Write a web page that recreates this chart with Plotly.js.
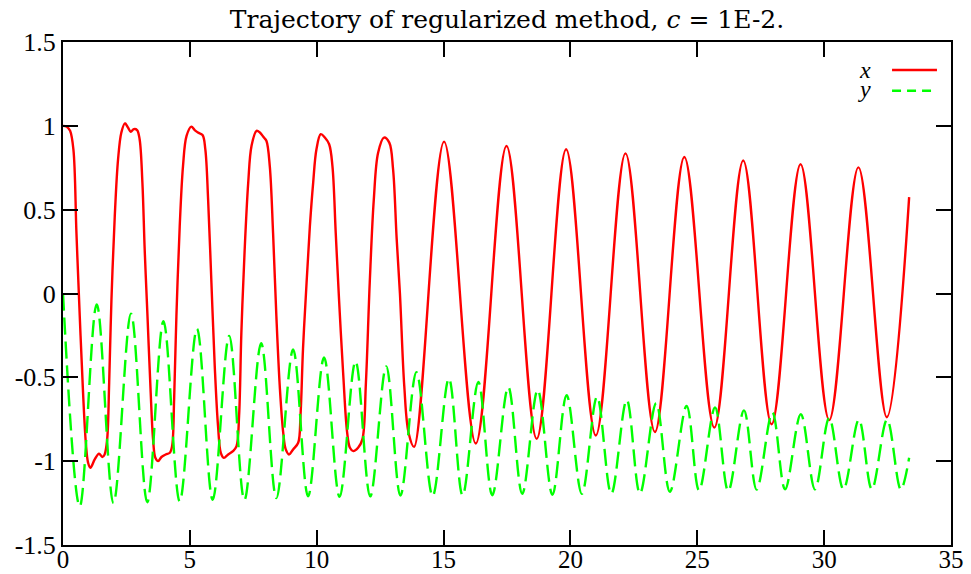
<!DOCTYPE html>
<html>
<head>
<meta charset="utf-8">
<script src="https://cdn.plot.ly/plotly-3.0.1.min.js"></script>
<style>html,body{margin:0;padding:0;background:#fff;}#chart{width:971px;height:574px;}</style>
</head>
<body>
<div id="chart"></div>
<script>
// ---- data ----
const xTime = [0.00,0.15,0.28,0.41,0.53,0.66,0.79,0.90,0.99,1.08,1.25,1.42,1.55,1.64,1.74,1.82,1.91,2.04,2.17,2.30,
  2.44,2.56,2.67,2.79,2.92,3.02,3.13,3.22,3.33,3.45,3.55,3.64,3.75,3.88,4.05,4.21,4.30,4.38,4.47,4.60,
  4.73,4.87,5.06,5.19,5.32,5.50,5.61,5.72,5.85,5.98,6.11,6.22,6.34,6.51,6.70,6.84,6.94,7.03,7.16,7.30,
  7.43,7.63,7.76,7.92,8.02,8.15,8.28,8.41,8.55,8.68,8.78,8.91,9.07,9.27,9.36,9.46,9.60,9.73,9.86,9.99,
  10.16,10.32,10.49,10.62,10.75,10.88,11.04,11.20,11.31,11.44,11.63,11.80,11.94,12.09,12.25,12.42,12.65,12.86,13.01,13.15,
  13.28,13.45,13.62,13.84,15.02,16.27,17.48,18.67,19.83,21.00,22.17,23.33,24.49,25.67,26.81,27.93,29.07,30.20,31.35,32.47,
  33.35];
const xValue = [1.00,0.995,0.97,0.86,0.36,-0.135,-0.59,-0.89,-1.01,-1.04,-0.99,-0.955,-0.975,-0.96,-0.87,-0.53,-0.036,0.46,0.80,0.96,
  1.015,0.99,0.965,0.98,0.975,0.92,0.66,0.26,-0.135,-0.57,-0.87,-0.98,-1.00,-0.975,-0.96,-0.95,-0.91,-0.63,-0.135,0.40,
  0.76,0.94,0.995,0.975,0.96,0.945,0.86,0.56,0.064,-0.43,-0.79,-0.95,-0.98,-0.96,-0.94,-0.91,-0.73,-0.235,0.26,0.66,
  0.88,0.97,0.96,0.93,0.91,0.76,0.36,-0.135,-0.57,-0.83,-0.93,-0.96,-0.93,-0.89,-0.73,-0.33,0.064,0.40,0.66,0.86,
  0.95,0.93,0.89,0.76,0.36,-0.036,-0.47,-0.83,-0.92,-0.94,-0.92,-0.87,-0.53,0.064,0.56,0.84,0.93,0.90,0.74,0.33,
  0.00,-0.55,-0.83,-0.915,0.906,-0.895,0.88,-0.867,0.86,-0.847,0.836,-0.826,0.814,-0.80,0.793,-0.78,0.771,-0.755,0.752,-0.738,
  0.575];

const yTime = [0.00,0.66,1.33,1.99,2.68,3.32,3.96,4.60,5.28,5.90,6.55,7.15,7.81,8.41,9.07,9.66,10.29,10.90,11.53,12.11,
  12.74,13.30,13.93,14.57,15.21,15.75,16.37,16.92,17.55,18.10,18.71,19.29,19.85,20.45,21.05,21.61,22.22,22.74,23.38,23.92,
  24.58,25.07,25.70,26.22,26.84,27.34,27.96,28.46,29.08,29.64,30.20,30.76,31.37,31.88,32.48,33.02,33.35];
const yValue = [0.00,-1.27,-0.065,-1.25,-0.12,-1.245,-0.165,-1.24,-0.21,-1.23,-0.253,-1.232,-0.297,-1.22,-0.334,-1.21,-0.382,-1.213,-0.405,-1.21,
  -0.435,-1.205,-0.47,-1.208,-0.507,-1.205,-0.528,-1.203,-0.557,-1.195,-0.575,-1.20,-0.607,-1.195,-0.615,-1.195,-0.634,-1.193,-0.654,-1.183,
  -0.67,-1.175,-0.68,-1.178,-0.697,-1.17,-0.71,-1.168,-0.72,-1.168,-0.742,-1.168,-0.752,-1.168,-0.752,-1.168,-0.98];

const xTicks = [0,5,10,15,20,25,30,35];
const xTickText = ['0','5','10','15','20','25','30','35'];
const yTicks = [-1.5,-1,-0.5,0,0.5,1,1.5];
const yTickText = ['-1.5','-1','-0.5','0','0.5','1','1.5'];
const seriesNames = ['x','y'];
// ----------------------------------------------

const FONT = 'Liberation Serif, Times New Roman, serif';
const TFONT = 'DejaVu Serif, serif';
const RED = '#ff0000', GREEN = '#00ff00';

const traces = [
  {x: xTime, y: xValue, type: 'scatter', mode: 'lines', name: seriesNames[0],
   line: {color: RED, width: 2.4, shape: 'spline', smoothing: 1}, showlegend: false},
  {x: yTime, y: yValue, type: 'scatter', mode: 'lines', name: seriesNames[1],
   line: {color: GREEN, width: 2.4, shape: 'spline', smoothing: 1, dash: '17px,7px'}, showlegend: false}
];

const axisCommon = {
  showgrid: false, zeroline: false, showline: true, linecolor: '#000', linewidth: 2,
  mirror: 'ticks', ticks: 'inside', ticklen: 15, tickwidth: 2, tickcolor: '#000',
  tickfont: {family: FONT, size: 26, color: '#000'}, fixedrange: true
};

const layout = {
  width: 971, height: 574,
  margin: {l: 63, r: 20, t: 42, b: 29, pad: 0},
  paper_bgcolor: '#fff', plot_bgcolor: '#fff',
  title: {text: 'Trajectory of regularized method, <i>c</i> = 1E-2.',
          font: {family: TFONT, size: 25, color: '#000'},
          x: 0.5, xref: 'paper', xanchor: 'center', y: 0.966, yref: 'container', yanchor: 'middle'},
  xaxis: Object.assign({}, axisCommon, {range: [0, 35], tickmode: 'array', tickvals: xTicks, ticktext: xTickText,
          ticklabelstandoff: -9, tickfont: {family: FONT, size: 25, color: '#000'}}),
  yaxis: Object.assign({}, axisCommon, {range: [-1.5, 1.5], tickmode: 'array', tickvals: yTicks, ticktext: yTickText}),
  showlegend: false,
  shapes: [
    {type: 'line', xref: 'paper', yref: 'paper', x0: 0.9336, x1: 0.9842, y0: 0.9443, y1: 0.9443,
     line: {color: RED, width: 2.4}},
    {type: 'line', xref: 'paper', yref: 'paper', x0: 0.9336, x1: 0.9842, y0: 0.9032, y1: 0.9032,
     line: {color: GREEN, width: 2.4, dash: '9px,6px'}}
  ],
  annotations: [
    {text: '<i>' + seriesNames[0] + '</i>', xref: 'paper', yref: 'paper', x: 0.912, y: 0.9443,
     xanchor: 'right', yanchor: 'middle', showarrow: false, font: {family: FONT, size: 24, color: '#000'}},
    {text: '<i>' + seriesNames[1] + '</i>', xref: 'paper', yref: 'paper', x: 0.912, y: 0.907,
     xanchor: 'right', yanchor: 'middle', showarrow: false, font: {family: FONT, size: 24, color: '#000'}}
  ]
};

Plotly.newPlot('chart', traces, layout, {displayModeBar: false, staticPlot: true});
</script>
</body>
</html>
